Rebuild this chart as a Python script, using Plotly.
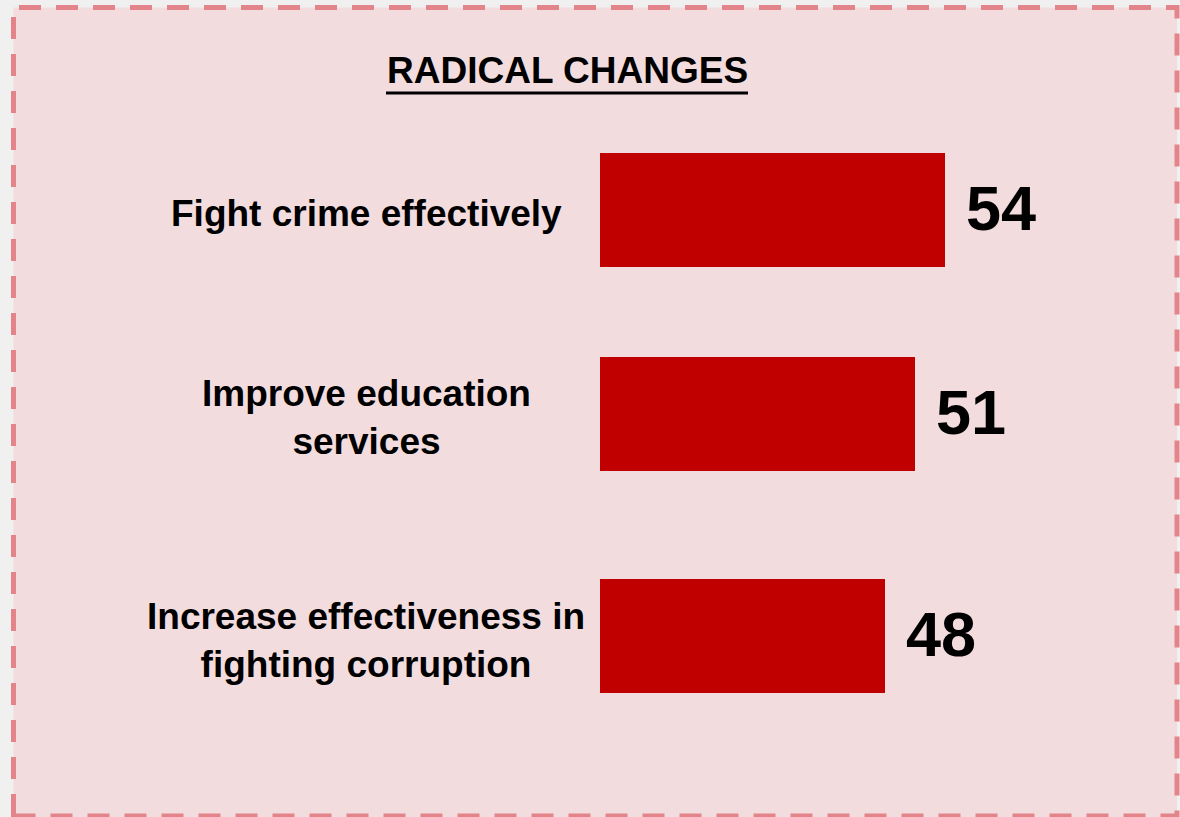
import plotly.graph_objects as go

# Survey results: share of respondents wanting radical changes
categories = ["Fight crime effectively",
              "Improve education<br>services",
              "Increase effectiveness in<br>fighting corruption"]
values = [54, 51, 48]
title_text = "RADICAL CHANGES"

W, H = 1180, 817
BAR_RED = "#c00000"
FONT = "Liberation Sans, Arial, sans-serif"
ROW_PITCH_PX = 213          # pixel height of one category band
BAR_WIDTH = 0.535           # bar thickness in category units
row_nudge_px = [0, 9, 0]    # small upward nudges per row (layout tweak)


def px_x(p):
    return p / W


def px_y(p):
    return 1 - p / H


offsets = [-BAR_WIDTH / 2 - n / ROW_PITCH_PX for n in row_nudge_px]

fig = go.Figure()
fig.add_trace(go.Bar(
    x=values,
    y=categories,
    orientation="h",
    marker=dict(color=BAR_RED, line=dict(width=0)),
    width=BAR_WIDTH,
    offset=offsets,
    hoverinfo="skip",
))

for c, v, n in zip(categories, values, row_nudge_px):
    # value labels to the right of each bar
    fig.add_annotation(
        x=v, y=c, xref="x", yref="y",
        text=f"<b>{v}</b>", showarrow=False,
        xanchor="left", xshift=19, yshift=2 + n,
        font=dict(family=FONT, size=63, color="black"),
    )
    # category labels, centred in the left column
    fig.add_annotation(
        x=px_x(366), y=c, xref="paper", yref="y",
        text=f"<b>{c}</b>", showarrow=False,
        xanchor="center", align="center", yshift=-4 + n,
        font=dict(family=FONT, size=37, color="black"),
    )

fig.add_annotation(
    x=px_x(567), y=px_y(71), xref="paper", yref="paper",
    text=f"<b>{title_text}</b>", showarrow=False,
    xanchor="center", yanchor="middle",
    font=dict(family=FONT, size=37, color="black"),
)
# thick underline beneath the title
fig.add_shape(type="line", xref="paper", yref="paper",
              x0=px_x(386), x1=px_x(748), y0=px_y(93), y1=px_y(93),
              line=dict(color="black", width=3))

# panel fill and dashed border
fig.add_shape(type="rect", xref="paper", yref="paper",
              x0=px_x(13.5), x1=px_x(1177), y0=px_y(817), y1=px_y(7.5),
              fillcolor="#f2dcde", line=dict(width=0), layer="below")
fig.add_shape(type="rect", xref="paper", yref="paper",
              x0=px_x(13.5), x1=px_x(1177), y0=px_y(816), y1=px_y(7.5),
              fillcolor="rgba(0,0,0,0)",
              line=dict(color="#e3838a", width=5, dash="22px,15px"),
              layer="above")

fig.update_layout(
    width=W, height=H,
    margin=dict(l=0, r=0, t=0, b=0),
    paper_bgcolor="#f0f0f0",
    plot_bgcolor="rgba(0,0,0,0)",
    showlegend=False,
    xaxis=dict(domain=[px_x(600), px_x(1100)], range=[19.5, 69.5],
               visible=False, fixedrange=True),
    yaxis=dict(domain=[px_y(742.5), px_y(103.5)], autorange="reversed",
               visible=False, fixedrange=True),
)

fig.write_html("out.html")
